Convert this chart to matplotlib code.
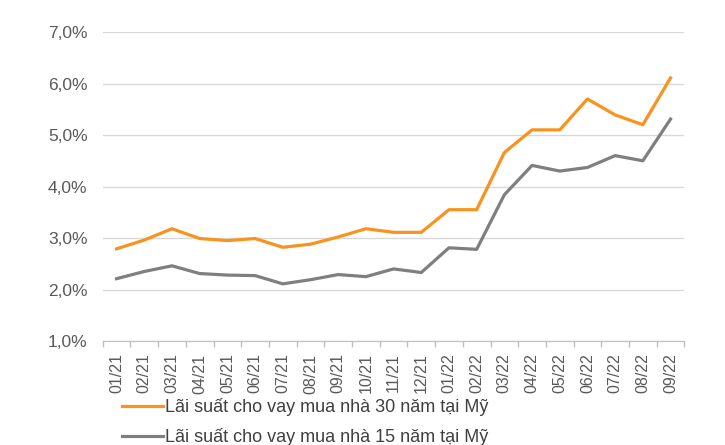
import matplotlib
matplotlib.use("Agg")
import matplotlib.pyplot as plt
from matplotlib.ticker import FuncFormatter, FixedLocator

plt.rcParams['font.family'] = ['Liberation Sans', 'DejaVu Sans']

# data
months = ['01/21', '02/21', '03/21', '04/21', '05/21', '06/21', '07/21', '08/21',
          '09/21', '10/21', '11/21', '12/21', '01/22', '02/22', '03/22', '04/22',
          '05/22', '06/22', '07/22', '08/22', '09/22']
rate_30y = [2.79, 2.96, 3.18, 2.99, 2.95, 2.99, 2.82, 2.88, 3.02, 3.18, 3.11,
            3.11, 3.55, 3.55, 4.66, 5.10, 5.10, 5.70, 5.39, 5.20, 6.11]
rate_15y = [2.21, 2.35, 2.46, 2.31, 2.28, 2.27, 2.11, 2.19, 2.29, 2.25, 2.40,
            2.33, 2.81, 2.78, 3.84, 4.41, 4.30, 4.37, 4.60, 4.50, 5.31]
label_30y = 'Lãi suất cho vay mua nhà 30 năm tại Mỹ'
label_15y = 'Lãi suất cho vay mua nhà 15 năm tại Mỹ'

orange = '#F7931E'
grey = '#7F7F7F'
text_col = '#595959'

fig = plt.figure(figsize=(7.25, 4.45), dpi=100)
ax = fig.add_axes([0.1417, 0.2337, 0.8023, 0.6943])

x = list(range(len(months)))
ax.plot(x, rate_30y, color=orange, lw=2.3, label=label_30y, solid_joinstyle='round')
ax.plot(x, rate_15y, color=grey, lw=2.3, label=label_15y, solid_joinstyle='round')

ax.set_ylim(1.0, 7.0)
ax.set_yticks([1, 2, 3, 4, 5, 6, 7])
ax.yaxis.set_major_formatter(FuncFormatter(lambda v, p: ('%.1f%%' % v).replace('.', ',')))
ax.grid(axis='y', color='#D9D9D9', lw=1)
ax.set_axisbelow(True)

ax.set_xlim(-0.5, len(months) - 0.5)
ax.set_xticks(x)
ax.set_xticklabels(months, rotation=90)
ax.xaxis.set_minor_locator(FixedLocator([i - 0.5 for i in range(len(months) + 1)]))
ax.tick_params(axis='x', which='major', length=0, pad=9, labelsize=11.5, labelcolor=text_col)
ax.tick_params(axis='x', which='minor', length=4, color='#BFBFBF', width=1)
ax.tick_params(axis='y', length=0, pad=11, labelsize=12.5, labelcolor=text_col)

for s in ['top', 'right', 'left']:
    ax.spines[s].set_visible(False)
ax.spines['bottom'].set_color('#BFBFBF')

fig.legend(loc='upper left', bbox_to_anchor=(0.168, 0.106), frameon=False,
           fontsize=13, handlelength=2.3, handletextpad=0.1, labelspacing=0.7,
           labelcolor='#404040', borderaxespad=0, borderpad=0)

fig.savefig('out.png', dpi=100)
